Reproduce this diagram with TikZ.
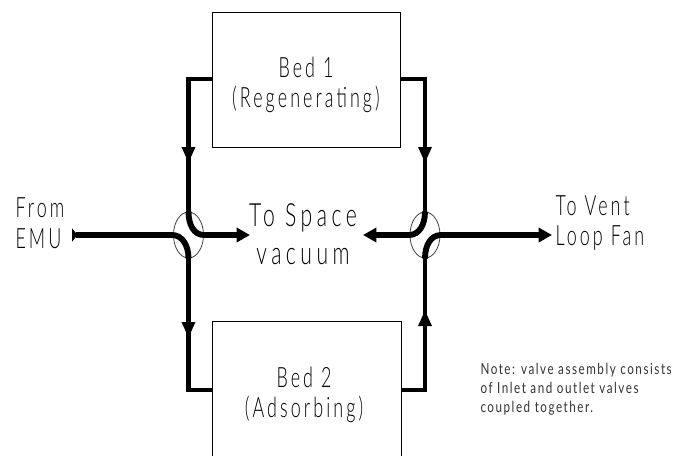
\documentclass[tikz,border=0pt]{standalone}
\usepackage{fontspec}
\setmainfont{Lato Light}
\newfontfamily\cadfont[FakeStretch=0.64,LetterSpace=11]{Lato Light}
\newfontfamily\bigcadfont[FakeStretch=0.66,LetterSpace=14]{Lato Light}
\newfontfamily\notefont[FakeStretch=0.76,LetterSpace=10]{Lato}
\usetikzlibrary{arrows.meta,shapes.geometric}

\tikzset{every picture/.style={line width=0.75pt}}
\tikzset{
	pipe/.style={line width=3.2pt},
	flow/.style={line width=4.4pt},
	tipflow/.style={-{Triangle[length=12pt,width=9.5pt]}},
	tipend/.style={-{Triangle[length=10pt,width=10.5pt]}},
	bedbox/.style={minimum width=141pt,inner sep=0pt},
	label/.style={inner sep=0.75pt,text=black,font=\fontsize{21}{23}\cadfont,align=center},
	biglabel/.style={label,font=\fontsize{24}{28.5}\bigcadfont},
	notelabel/.style={inner sep=0.75pt,text=black!80,font=\fontsize{11.5}{14.25}\notefont,align=left,anchor=north west},
	valve/.style={draw=black!75,line width=0.6pt,ellipse,minimum width=22.5pt,minimum height=34.5pt,inner sep=0pt}
}

\begin{document}
\begin{tikzpicture}[x=0.75pt,y=0.75pt,yscale=-1,xscale=1]
		\useasboundingbox (0,0) rectangle (693,455);
		
		%Beds
		\node [bedbox,draw,minimum height=101.25pt] (bedone) at (306.5,79.75) {};
		\node [bedbox,minimum height=99.75pt] (bedtwo) at (306.5,388.5) {};
		\draw (bedtwo.south west) -- (bedtwo.north west) -- (bedtwo.north east) -- (bedtwo.south east) ;
		
		%Valves
		\node [valve] (valveleft) at (188.5,235) {};
		\node [valve] (valveright) at (425,235) {};
		
		%Free ends
		\coordinate (emu) at (72,235);
		\coordinate (space) at (250,235);
		\coordinate (spaceright) at (363,235);
		\coordinate (fan) at (552,235);
		\coordinate (bedoneleft) at (212,79);
		\coordinate (bedoneright) at (401,79);
		\coordinate (bedtwoleft) at (212,390);
		\coordinate (bedtworight) at (401,390);
		\coordinate (cornerA) at (188.5,79);
		\coordinate (cornerB) at (425,79);
		\coordinate (cornerC) at (188.5,390);
		\coordinate (cornerD) at (425,390);
		\coordinate (midA) at (188.5,163);
		\coordinate (midB) at (425,163);
		\coordinate (midC) at (188.5,338);
		\coordinate (midD) at (425,310);
		
		%Left side
		\draw [pipe] (bedoneleft) -- (cornerA) -- (valveleft.north) ;
		\draw [pipe,tipflow] (cornerA) -- (midA) ;
		\draw [pipe] (valveleft.south) -- (cornerC) -- (bedtwoleft) ;
		\draw [pipe,tipflow] (valveleft.south) -- (midC) ;
		\draw [flow,{Triangle[reversed,length=4pt,width=10pt]}-] (emu) -- (172,235) .. controls (182,235) and (188.5,245) .. (valveleft.south) ;
		\draw [flow,tipend] (valveleft.north) .. controls (188.5,225) and (194,235) .. (204,235) -- (space) ;
		
		%Right side
		\draw [pipe] (bedoneright) -- (cornerB) -- (valveright.north) ;
		\draw [pipe,tipflow] (cornerB) -- (midB) ;
		\draw [pipe] (bedtworight) -- (cornerD) -- (valveright.south) ;
		\draw [pipe,tipflow] (cornerD) -- (midD) ;
		\draw [flow,tipend] (valveright.north) .. controls (425,225) and (419,235) .. (409,235) -- (spaceright) ;
		\draw [flow,tipend] (valveright.south) .. controls (425,245) and (431,235) .. (441,235) -- (fan) ;
		
		% Text Node
		\node [label] (bedonetext) at (306,85) {Bed 1\\(Regenerating)};
		% Text Node
		\node [label] (bedtwotext) at (304,395) {Bed 2\\(Adsorbing)};
		% Text Node
		\node [biglabel] (spacetext) at (303,234) {To Space\\vacuum};
		% Text Node
		\node [label,align=left,anchor=west] (fromtext) at (14,223) {From\\EMU};
		% Text Node
		\node [label,align=left,anchor=west] (fantext) at (554,223) {To Vent\\Loop Fan};
		% Text Node
		\node [notelabel] (notetext) at (479,362) {Note: valve assembly consists\\of Inlet and outlet valves\\coupled together.};
		
		
	\end{tikzpicture}
\end{document}
